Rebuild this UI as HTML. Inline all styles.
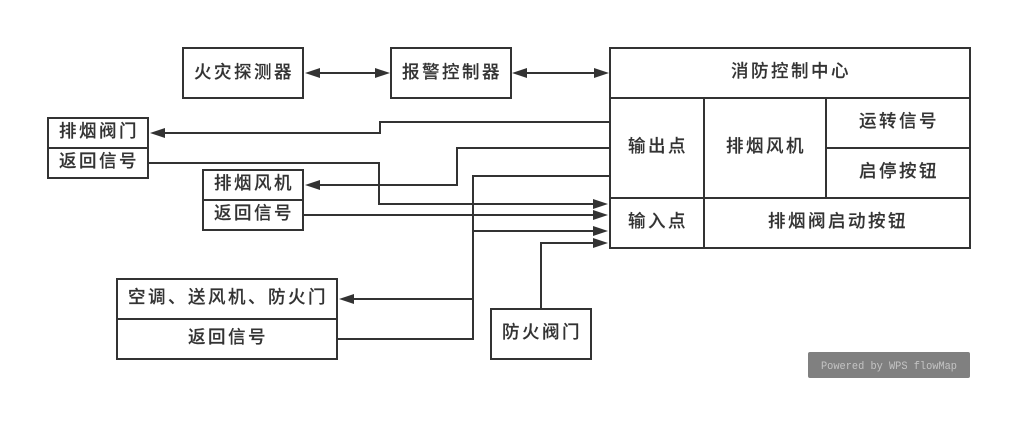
<!DOCTYPE html>
<html><head><meta charset="utf-8"><style>
html,body{margin:0;padding:0;background:#fff;width:1032px;height:421px;overflow:hidden}
svg{display:block}
text.t{font-family:"Liberation Sans","Noto Sans CJK SC",sans-serif;font-size:17.5px;letter-spacing:2.5px;fill:#333;stroke:#333;stroke-width:0.15px;text-anchor:middle;font-weight:500}
.l{fill:none;stroke:#333;stroke-width:2}
.a{fill:#333}
</style></head><body>
<svg width="1032" height="421" viewBox="0 0 1032 421" xmlns="http://www.w3.org/2000/svg">
<rect width="1032" height="421" fill="#fff"/>
<g class="l">
<rect x="183" y="48" width="120" height="50"/>
<rect x="391" y="48" width="120" height="50"/>
<rect x="610" y="48" width="360" height="200"/>
<path d="M610 98H970M610 198H970M704 98V248M826 98V198M826 148H970"/>
<rect x="48" y="118" width="100" height="60"/><path d="M48 148H148"/>
<rect x="203" y="170" width="100" height="60"/><path d="M203 200H303"/>
<rect x="117" y="279" width="220" height="80"/><path d="M117 319H337"/>
<rect x="491" y="309" width="100" height="50"/>
<path d="M310 73H385"/>
<path d="M517 73H604"/>
<path d="M610 122H380V133H155"/>
<path d="M148 163H379V204H598"/>
<path d="M610 148H457V185H310"/>
<path d="M303 215H598"/>
<path d="M610 176H473V299H344"/>
<path d="M337 339H473V231H598"/>
<path d="M541 309V243H598"/>
</g>
<g class="a">
<path d="M305 73L320 68V78Z"/>
<path d="M390 73L375 68V78Z"/>
<path d="M512 73L527 68V78Z"/>
<path d="M609 73L594 68V78Z"/>
<path d="M150 133L165 128V138Z"/>
<path d="M305 185L320 180V190Z"/>
<path d="M339 299L354 294V304Z"/>
<path d="M608 204L593 199V209Z"/>
<path d="M608 215L593 210V220Z"/>
<path d="M608 231L593 226V236Z"/>
<path d="M608 243L593 238V248Z"/>
</g>
<g>
<text class="t" x="244" y="78">火灾探测器</text>
<text class="t" x="452" y="78">报警控制器</text>
<text class="t" x="791" y="77">消防控制中心</text>
<text class="t" x="658" y="152">输出点</text>
<text class="t" x="658" y="227">输入点</text>
<text class="t" x="766" y="152">排烟风机</text>
<text class="t" x="899" y="127">运转信号</text>
<text class="t" x="899" y="177">启停按钮</text>
<text class="t" x="838" y="227">排烟阀启动按钮</text>
<text class="t" x="99" y="137">排烟阀门</text>
<text class="t" x="99" y="167">返回信号</text>
<text class="t" x="254" y="189">排烟风机</text>
<text class="t" x="254" y="219">返回信号</text>
<text class="t" x="228" y="303">空调、送风机、防火门</text>
<text class="t" x="228" y="343">返回信号</text>
<text class="t" x="542" y="338">防火阀门</text>
</g>
<rect x="808" y="352" width="162" height="26" rx="2" fill="#808080"/>
<text x="821" y="369" font-family="'Liberation Mono',monospace" font-size="11" fill="#c4c4c4" textLength="136" lengthAdjust="spacingAndGlyphs">Powered by WPS flowMap</text>
</svg>
</body></html>
